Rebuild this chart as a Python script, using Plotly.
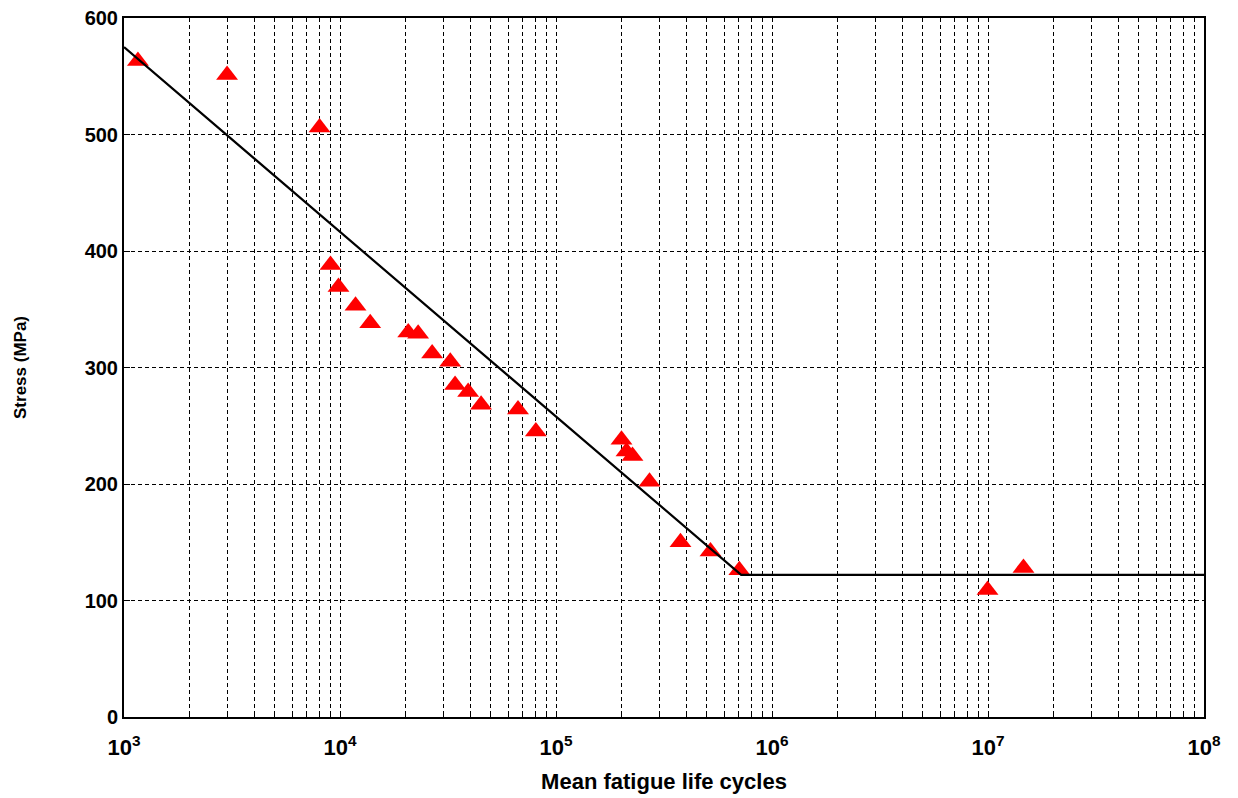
import plotly.graph_objects as go

# Data
cycles = [1160, 3000, 8040, 9040, 9840, 11800, 13800, 20700, 23000, 26700,
          32400, 34100, 39200, 45000, 66700, 80700, 201000, 212000, 226000,
          271000, 377000, 519000, 706000, 9.95e6, 1.46e7]
stress = [563, 551, 506, 388, 369, 353, 338, 330, 329, 312,
          305, 285, 279, 268, 264, 245, 238, 228, 224,
          202, 150, 142, 126, 109, 128]

fit_cycles = [1000, 720000, 1e8]
fit_stress = [575, 122, 122]

x_tick_vals = [1e3, 1e4, 1e5, 1e6, 1e7, 1e8]
x_tick_text = ["10<sup>3</sup>", "10<sup>4</sup>", "10<sup>5</sup>",
               "10<sup>6</sup>", "10<sup>7</sup>", "10<sup>8</sup>"]
minor_vals = [m * 10 ** e for e in range(3, 8) for m in range(2, 10)]
y_tick_vals = [0, 100, 200, 300, 400, 500, 600]

FAM = "Liberation Sans, Arial, sans-serif"
DASH = "4px,3px"

fig = go.Figure()
fig.add_trace(go.Scatter(
    x=cycles, y=stress, mode="markers",
    marker=dict(symbol="triangle-up", size=19, color="red",
                line=dict(width=0)),
    showlegend=False))
fig.add_trace(go.Scatter(
    x=fit_cycles, y=fit_stress, mode="lines",
    line=dict(color="black", width=2.2), showlegend=False))

fig.update_layout(
    width=1238, height=798,
    margin=dict(l=116, r=42, t=10, b=89),
    paper_bgcolor="white", plot_bgcolor="white",
    font=dict(family=FAM, color="black"),
    xaxis=dict(
        type="log", range=[3, 8], automargin=False,
        tickvals=x_tick_vals, ticktext=x_tick_text,
        tickfont=dict(size=22, family=FAM, weight="bold"),
        ticklabelstandoff=10, ticklabeloverflow="allow",
        showgrid=True, gridcolor="black", griddash=DASH, gridwidth=1,
        minor=dict(tickvals=minor_vals, showgrid=True, gridcolor="black",
                   griddash=DASH, gridwidth=1, ticks="inside", ticklen=4,
                   tickcolor="black"),
        showline=True, linecolor="black", linewidth=2, mirror=True,
        ticks="inside", ticklen=6, tickcolor="black",
        zeroline=False,
        title=dict(text="<b>Mean fatigue life cycles</b>", font=dict(size=22), standoff=14),
    ),
    yaxis=dict(
        range=[0, 600], automargin=False,
        tickvals=y_tick_vals,
        tickfont=dict(size=20, family=FAM, weight="bold"),
        ticklabeloverflow="allow",
        showgrid=True, gridcolor="black", griddash=DASH, gridwidth=1,
        showline=True, linecolor="black", linewidth=2, mirror=True,
        ticks="inside", ticklen=6, tickcolor="black",
        zeroline=False,
        title=dict(text="<b>Stress (MPa)</b>", font=dict(size=17), standoff=54),
    ),
)

fig.write_html("out.html")
